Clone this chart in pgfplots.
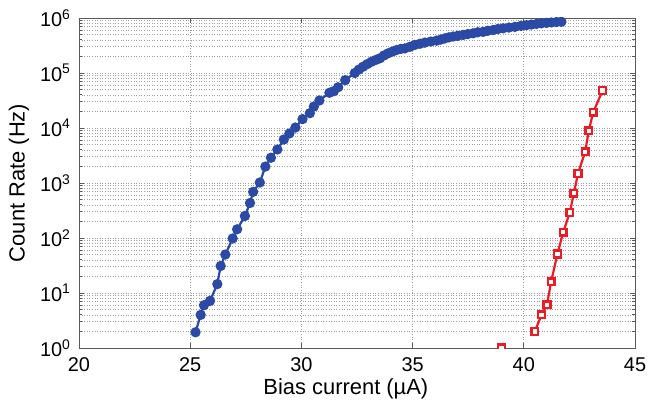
\documentclass[border=0pt]{standalone}
\usepackage{fontspec}
\setmainfont{Liberation Sans}
\usepackage{pgfplots}
\pgfplotsset{compat=1.18}

\definecolor{bluecurve}{RGB}{42,74,166}
\definecolor{redcurve}{RGB}{236,28,36}
\definecolor{gridgray}{RGB}{160,160,160}

\begin{document}
\begin{tikzpicture}
\begin{axis}[
    scale only axis,
    width=556bp, height=330bp,
    xmin=20, xmax=45,
    ymode=log, ymin=1, ymax=1e6,
    xtick={20,25,30,35,40,45},
    xticklabels={20,25,30,35,40,45},
    ytick={1,10,100,1000,10000,100000,1000000},
    yticklabels={10\textsuperscript{0},10\textsuperscript{1},10\textsuperscript{2},10\textsuperscript{3},10\textsuperscript{4},10\textsuperscript{5},10\textsuperscript{6}},
    minor ytick={2,3,4,5,6,7,8,9,
                 20,30,40,50,60,70,80,90,
                 200,300,400,500,600,700,800,900,
                 2000,3000,4000,5000,6000,7000,8000,9000,
                 2e4,3e4,4e4,5e4,6e4,7e4,8e4,9e4,
                 2e5,3e5,4e5,5e5,6e5,7e5,8e5,9e5},
    grid=both,
    major grid style={gridgray, line width=0.7bp, dash pattern=on 1bp off 1.6bp},
    minor grid style={gridgray, line width=0.7bp, dash pattern=on 1bp off 1.6bp},
    axis line style={black!65, line width=0.9bp},
    tick align=inside,
    major tick length=5bp, minor tick length=3bp,
    every tick/.style={black!65, line width=0.8bp},
    tick label style={font=\fontsize{20}{24}\selectfont},
    xticklabel style={yshift=-6bp},
    yticklabel style={xshift=-5bp},
    xlabel={Bias current (µA)},
    ylabel={Count Rate (Hz)},
    every axis x label/.style={at={(axis description cs:0.48,-0.124)}, anchor=center,
        font=\fontsize{22}{26}\selectfont},
    every axis y label/.style={at={(axis description cs:-0.108,0.5)}, anchor=center,
        rotate=90, font=\fontsize{22}{26}\selectfont},
    clip marker paths=true,
    unbounded coords=jump,
]
\addplot[color=bluecurve, line width=2.2bp, mark=*, mark size=4bp] coordinates {
    (25.24,1.93) (25.47,4.0) (25.62,6.0) (25.89,7.2) (26.22,14.5)
    (26.37,31) (26.58,50) (26.91,98) (27.11,144) (27.46,251)
    (27.69,433) (27.83,690) (28.13,1020) (28.38,1990) (28.63,2880)
    (28.92,4070) (29.21,6170) (29.46,7940) (29.73,10200) (30.05,14500)
    (30.38,18600) (30.56,24500) (30.81,31600) (31.26,43700) (31.46,46800)
    (31.65,55000) (31.97,74000) (32.40,1.0e5) (32.58,1.15e5) (32.77,1.3e5)
    (32.96,1.45e5) (33.15,1.6e5) (33.35,1.73e5) (33.53,1.85e5) (33.71,2.08e5)
    (33.90,2.28e5) (34.09,2.45e5) (34.28,2.62e5) (34.47,2.74e5) (34.65,2.80e5)
    (34.88,3.0e5) (35.10,3.24e5) (35.33,3.40e5) (35.55,3.57e5) (35.82,3.73e5)
    (36.08,3.88e5) (36.27,4.05e5) (36.45,4.26e5) (36.63,4.45e5) (36.82,4.6e5)
    (37.03,4.75e5) (37.27,4.92e5) (37.48,5.1e5) (37.72,5.27e5) (37.93,5.5e5)
    (38.17,5.6e5) (38.38,5.85e5) (38.62,6.05e5) (38.83,6.3e5) (39.07,6.5e5)
    (39.33,6.7e5) (39.60,6.9e5) (39.87,7.2e5) (40.12,7.4e5) (40.34,7.6e5)
    (40.57,7.8e5) (40.79,8.0e5) (41.02,8.15e5) (41.24,8.3e5) (41.47,8.45e5)
    (41.69,8.55e5)
};
\addplot[color=redcurve, line width=2.2bp, mark=square*, mark size=3.4bp,
         mark options={fill=white, line width=2.4bp}] coordinates {
    (39.00,1.0) (39.80,nan)
    (40.49,2.0) (40.80,4.0) (41.04,6.1) (41.23,16) (41.51,51)
    (41.77,127) (42.07,293) (42.25,650) (42.44,1500) (42.76,3700)
    (42.92,8900) (43.12,19300) (43.54,47700)
};
\end{axis}
\pgfresetboundingbox
\path[use as bounding box] (-79bp,-55bp) rectangle (572bp,348bp);
\end{tikzpicture}
\end{document}
